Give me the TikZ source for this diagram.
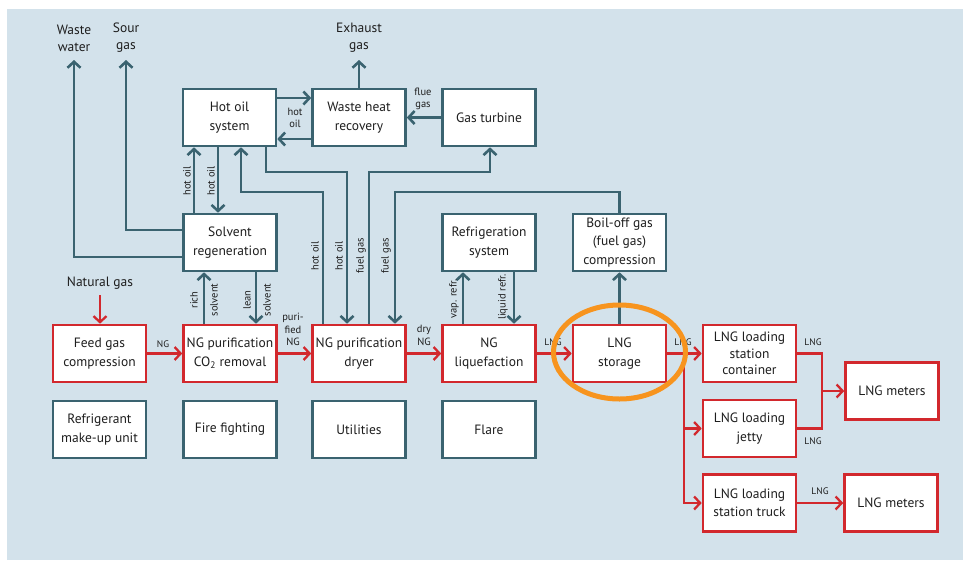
\documentclass[tikz,border=0pt]{standalone}
\usepackage{fontspec}
\setmainfont{PT Sans}
\usetikzlibrary{arrows.meta}
\definecolor{bgc}{RGB}{211,226,235}
\definecolor{tealc}{RGB}{58,99,112}
\definecolor{redc}{RGB}{210,40,45}
\definecolor{orangec}{RGB}{247,148,30}
\definecolor{txtc}{RGB}{30,30,30}
\tikzset{
  tbox/.style={draw=tealc, fill=white, line width=2.6pt, minimum width=93pt, minimum height=57pt,
    inner sep=1pt, align=center, text=txtc, font=\fontsize{13.5}{18.5}\selectfont},
  rbox/.style={tbox, draw=redc},
  tline/.style={draw=tealc, line width=2.6pt},
  tarr/.style={tline, -{Straight Barb[length=6pt,width=13pt]}},
  rline/.style={draw=redc, line width=2.3pt},
  rarr/.style={rline, -{Straight Barb[length=6pt,width=13pt]}},
  biglbl/.style={align=center, text=txtc, inner sep=0pt, font=\fontsize{13.5}{17}\selectfont},
  lbl/.style={align=center, text=txtc, inner sep=0pt, font=\fontsize{10.5}{12.5}\selectfont},
  slbl/.style={align=center, text=txtc, inner sep=0pt, font=\fontsize{9.5}{12}\selectfont},
}
\begin{document}
\begin{tikzpicture}[x=1pt,y=-1pt]
\useasboundingbox (0,0) rectangle (963,560);
\fill[bgc] (7,9) rectangle (963,560);

% boxes
\node[tbox] (hot) at (229.5,117.5) {Hot oil\\system};
\node[tbox] (whr) at (359,117.5) {Waste heat\\recovery};
\node[tbox] (gt) at (489,117.5) {Gas turbine};
\node[tbox] (solv) at (230,242.5) {Solvent\\regeneration};
\node[tbox] (refr) at (489,242.5) {Refrigeration\\system};
\node[tbox] (bog) at (619.5,242.5) {Boil-off gas\\(fuel gas)\\compression};
\node[rbox] (feed) at (99.5,353.5) {Feed gas\\compression};
\node[rbox] (co2) at (230,353.5) {NG purification\\CO\textsubscript{2} removal};
\node[rbox] (dryer) at (359,353.5) {NG purification\\dryer};
\node[rbox] (liq) at (489,353.5) {NG\\liquefaction};
\node[rbox] (stor) at (619.5,353.5) {LNG\\storage};
\node[rbox, font=\fontsize{13.5}{16.5}\selectfont] (cont) at (749.5,353.5) {LNG loading\\station\\container};
\node[rbox] (jetty) at (749.5,428.5) {LNG loading\\jetty};
\node[rbox] (truck) at (749.5,503) {LNG loading\\station truck};
\node[rbox] (met1) at (892,391) {LNG meters};
\node[rbox] (met2) at (891,503) {LNG meters};
\node[tbox] (refmk) at (99.5,429.5) {Refrigerant\\make-up unit};
\node[tbox] (fire) at (230,429.5) {Fire fighting};
\node[tbox] (util) at (359,429.5) {Utilities};
\node[tbox] (flare) at (489,429.5) {Flare};

% outlet coordinates and labels
\coordinate (exh) at (359,60);
\coordinate (sour) at (126,60);
\coordinate (ww) at (74,60);
\coordinate (ng) at (100,295);
\node[biglbl] (exhl) at (359,38) {Exhaust\\gas};
\node[biglbl] (sourl) at (126,38) {Sour\\gas};
\node[biglbl] (wwl) at (74,38) {Waste\\water};
\node[biglbl] (ngl) at (100,283) {Natural gas};

% teal connectors
\draw[tarr] (hot.east |- 0,98) -- (whr.west |- 0,98);
\draw[tarr] (whr.west |- 0,139) -- (hot.east |- 0,139);
\draw[tarr] (gt) -- (whr);
\draw[tarr] (whr.north) -- (exh);
\draw[tarr] (194,0 |- solv.north) -- (194,0 |- hot.south);
\draw[tarr] (218,0 |- hot.south) -- (218,0 |- solv.north);
\draw[tarr] (266,0 |- hot.south) |- (347,172) -- (347,0 |- dryer.north);
\draw[tarr] (323,0 |- dryer.north) |- (241,192) -- (241,0 |- hot.south);
\draw[tarr] (369,0 |- dryer.north) |- (490,172) -- (490,0 |- gt.south);
\draw[tarr] (bog.north) |- (395,192) -- (395,0 |- dryer.north);
\draw[tarr] (solv.west |- 0,230) -| (sour);
\draw[tarr] (solv.west |- 0,257) -| (ww);
\draw[tarr] (204,0 |- co2.north) -- (204,0 |- solv.south);
\draw[tarr] (256,0 |- solv.south) -- (256,0 |- co2.north);
\draw[tarr] (463,0 |- liq.north) -- (463,0 |- refr.south);
\draw[tarr] (514,0 |- refr.south) -- (514,0 |- liq.north);
\draw[tarr] (stor) -- (bog);

% red connectors
\coordinate (br) at (684,353.5);
\coordinate (mj) at (822,391);
\draw[rarr] (ng) -- (ng |- feed.north);
\draw[rarr] (feed) -- (co2);
\draw[rarr] (co2) -- (dryer);
\draw[rarr] (dryer) -- (liq);
\draw[rarr] (liq) -- (stor);
\draw[rarr] (stor) -- (cont);
\draw[rarr] (br) |- (jetty.west);
\draw[rarr] (br) |- (truck.west);
\draw[rline] (cont.east) -| (mj) |- (jetty.east);
\draw[rarr] (mj) -- (mj -| met1.west);
\draw[rarr] (truck) -- (met2);

% small labels
\node[lbl] at (295,118) {hot\\oil};
\node[lbl] at (423,99) {flue\\gas};
\node[lbl, rotate=90] at (187,181) {hot oil};
\node[lbl, rotate=90] at (211,181) {hot oil};
\node[lbl, rotate=90] at (315,256) {hot oil};
\node[lbl, rotate=90] at (339,256) {hot oil};
\node[lbl, rotate=90] at (361,256) {fuel gas};
\node[lbl, rotate=90] at (386,256) {fuel gas};
\node[lbl, rotate=90] at (194,300) {rich};
\node[lbl, rotate=90] at (214,300) {solvent};
\node[lbl, rotate=90] at (247,300) {lean};
\node[lbl, rotate=90] at (267,300) {solvent};
\node[lbl, rotate=90] at (454,299) {vap. refr.};
\node[lbl, rotate=90] at (503,297) {liquid refr.};
\node[lbl] at (293,329.5) {puri-\\fied\\NG};
\node[lbl] at (424,335.5) {dry\\NG};
\node[slbl] at (163,344) {NG};
\node[slbl] at (553,342) {LNG};
\node[slbl] at (683,342) {LNG};
\node[slbl] at (813,342) {LNG};
\node[slbl] at (813,441) {LNG};
\node[slbl] at (820,491) {LNG};

% highlight
\draw[orangec, line width=5pt] (619.5,352) ellipse [x radius=66pt, y radius=47pt];
\end{tikzpicture}
\end{document}
